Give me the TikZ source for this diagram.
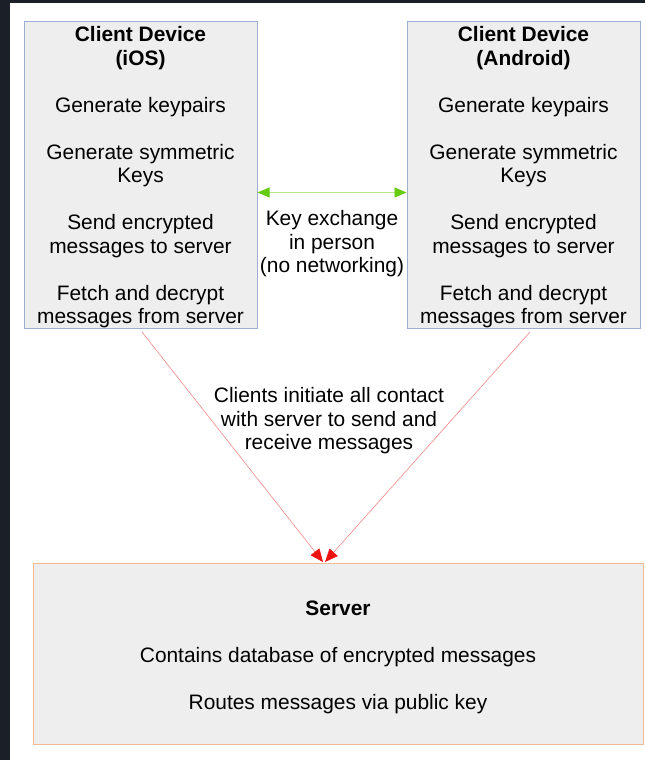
\documentclass[tikz,border=0pt]{standalone}
\usepackage{fontspec}
\setmainfont{Liberation Sans}
\usetikzlibrary{arrows.meta}
\definecolor{darkbg}{HTML}{1B1F28}
\definecolor{boxfill}{HTML}{EEEEEE}
\definecolor{clientline}{HTML}{9DB0D2}
\definecolor{serverline}{HTML}{F2BA90}
\definecolor{redline}{HTML}{F28A8A}
\definecolor{redhead}{HTML}{EE1111}
\definecolor{greenline}{HTML}{B2E88A}
\definecolor{greenhead}{HTML}{66CC11}
\tikzset{
  x=1pt, y=-1pt,
  boxtext/.style={font=\fontsize{20.9}{23.5}\selectfont, align=center, text=black, inner sep=0pt},
  clientbox/.style={draw=clientline, fill=boxfill, line width=0.8pt,
    minimum width=233pt, minimum height=307pt, inner sep=0pt},
  serverbox/.style={draw=serverline, fill=boxfill, line width=1pt,
    minimum width=610pt, minimum height=181pt, inner sep=0pt},
  redarrow/.style={draw=redline, line width=0.6pt,
    -{Triangle[length=13pt,width=11pt,color=redhead]}},
  greenarrow/.style={draw=greenline, line width=0.8pt,
    {Triangle[length=12pt,width=10pt,color=greenhead]}-{Triangle[length=12pt,width=10pt,color=greenhead]}},
  plainlabel/.style={boxtext}
}
\begin{document}
\begin{tikzpicture}
\fill[white] (0,0) rectangle (645,760);
\fill[darkbg] (0,0) rectangle (10,760);
\fill[darkbg] (0,0) rectangle (645,3);
\useasboundingbox (0,0) rectangle (645,760);

\node[clientbox] (ios) at (140.5,174.5) {};
\node[boxtext, yshift=-3pt] (iostext) at (ios.center) {\textbf{Client Device}\\\textbf{(iOS)}\\[23.5pt]
Generate keypairs\\[23.5pt]
Generate symmetric\\Keys\\[23.5pt]
Send encrypted\\messages to server\\[23.5pt]
Fetch and decrypt\\messages from server};

\node[clientbox] (android) at (523.5,174.5) {};
\node[boxtext, yshift=-3pt] (androidtext) at (android.center) {\textbf{Client Device}\\\textbf{(Android)}\\[23.5pt]
Generate keypairs\\[23.5pt]
Generate symmetric\\Keys\\[23.5pt]
Send encrypted\\messages to server\\[23.5pt]
Fetch and decrypt\\messages from server};

\node[serverbox] (server) at (338,653.5) {};
\node[boxtext, yshift=-3.5pt] (servertext) at (server.center) {\textbf{Server}\\[23.5pt]
Contains database of encrypted messages\\[23.5pt]
Routes messages via public key};

\node[plainlabel] (keyx) at (332,244) {Key exchange\\in person\\(no networking)};
\node[plainlabel] (contact) at (329,421) {Clients initiate all contact\\with server to send and\\receive messages};

\coordinate (g1) at (257.5,192.5);
\coordinate (g2) at (406.5,192.5);
\draw[greenarrow] (g1) -- (g2);

\coordinate (s1) at (142,332);
\coordinate (s2) at (530,332);
\coordinate (t1) at (323,562);
\coordinate (t2) at (325,562);
\draw[redarrow] (s1) -- (t1);
\draw[redarrow] (s2) -- (t2);
\end{tikzpicture}
\end{document}
